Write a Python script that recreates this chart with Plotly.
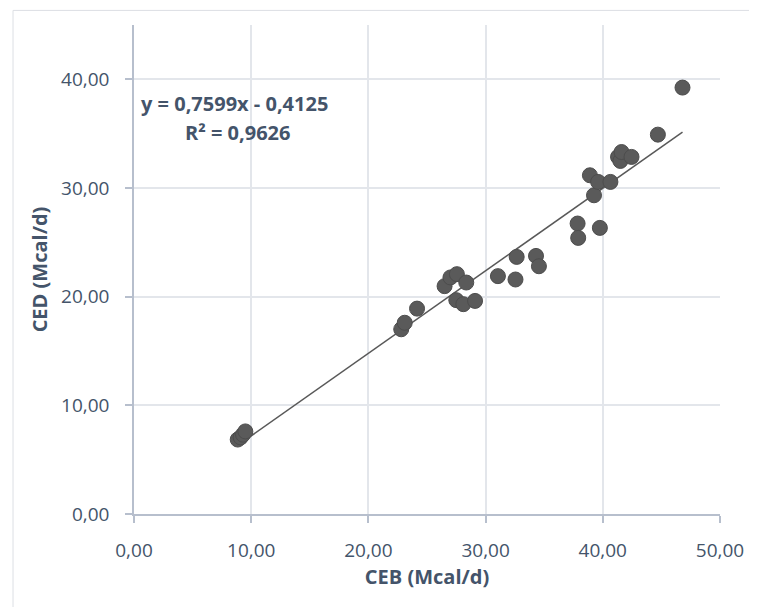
import numpy as np
import plotly.graph_objects as go

# Data
ceb = [8.85, 9.1, 9.3, 9.5, 22.8, 23.1, 24.15, 26.5, 27.0, 27.55, 28.35, 27.5, 28.1, 29.1,
       31.05, 32.55, 32.65, 34.3, 34.55, 37.85, 37.9, 39.75, 39.25, 38.9, 39.6, 40.65,
       41.3, 41.5, 41.6, 42.45, 44.7, 46.8]
ced = [6.85, 7.05, 7.3, 7.6, 17.0, 17.6, 18.9, 20.97, 21.77, 22.07, 21.3, 19.68, 19.31, 19.61,
       21.89, 21.58, 23.66, 23.75, 22.8, 26.73, 25.41, 26.33, 29.33, 31.17, 30.56, 30.56,
       32.86, 32.49, 33.31, 32.86, 34.91, 39.24]
slope = 0.7599
intercept = -0.4125
r2 = 0.9626

x_ticks = [0, 10, 20, 30, 40, 50]
y_ticks = [0, 10, 20, 30, 40]

txt = "#44546a"
axis_col = "#b7bfcd"
grid_col = "#e3e6eb"
font_family = "Open Sans, Liberation Sans, sans-serif"

# plot area geometry (figure pixels)
L, T, PW, PH = 126.4, 16.6, 585.6, 489.4
W, H = 757, 607
B = H - T - PH
R = W - L - PW


def px_to_paper(x, y):
    return (x - L) / PW, (T + PH - y) / PH


tx = np.array([min(ceb), max(ceb)])
ty = slope * tx + intercept

fig = go.Figure()
fig.add_trace(go.Scatter(
    x=tx, y=ty, mode="lines",
    line=dict(color="#595959", width=1.5),
    hoverinfo="skip", showlegend=False))
fig.add_trace(go.Scatter(
    x=ceb, y=ced, mode="markers",
    marker=dict(size=15, color="#5a5a5a", line=dict(color="#4d4d4d", width=1)),
    showlegend=False))

line1 = ("<b>y = " + f"{slope:.4f}".replace(".", ",") + "x - "
         + f"{abs(intercept):.4f}".replace(".", ",") + "</b>")
line2 = "<b>R² = " + f"{r2:.4f}".replace(".", ",") + "</b>"
ax1, ay1 = px_to_paper(227, 95)
ax2, ay2 = px_to_paper(230, 124)
for t, ax, ay in [(line1, ax1, ay1), (line2, ax2, ay2)]:
    fig.add_annotation(x=ax, y=ay, xref="paper", yref="paper", text=t,
                       showarrow=False, xanchor="center", yanchor="middle",
                       font=dict(family=font_family, size=20, color=txt))

bx0, by1 = px_to_paper(5.5, 2)
bx1, by0 = px_to_paper(742, 700)
fig.add_shape(type="rect", xref="paper", yref="paper",
              x0=bx0, x1=bx1, y0=by0, y1=by1,
              line=dict(color="#dcdfe4", width=1), layer="below")

fig.update_layout(
    width=W, height=H,
    margin=dict(l=L, r=R, t=T, b=B),
    paper_bgcolor="white", plot_bgcolor="white",
    separators=",.",
    font=dict(family=font_family, color=txt),
    xaxis=dict(
        range=[0, 50], tickvals=x_ticks, tickformat=".2f",
        showgrid=True, gridcolor=grid_col, gridwidth=1.5,
        showline=True, linecolor=axis_col, linewidth=1.5,
        ticks="outside", ticklen=7, tickcolor=axis_col, tickwidth=1.5,
        ticklabelstandoff=11,
        tickfont=dict(size=19, color=txt), zeroline=False,
        title=dict(text="<b>CEB (Mcal/d)</b>", font=dict(size=20, color=txt), standoff=8),
    ),
    yaxis=dict(
        range=[0, 45], tickvals=y_ticks, tickformat=".2f",
        showgrid=True, gridcolor=grid_col, gridwidth=1.5,
        showline=True, linecolor=axis_col, linewidth=1.5,
        ticks="outside", ticklen=7, tickcolor=axis_col, tickwidth=1.5,
        ticklabelstandoff=12,
        tickfont=dict(size=19, color=txt), zeroline=False,
        title=dict(text="<b>CED (Mcal/d)</b>", font=dict(size=20, color=txt), standoff=8),
    ),
)

fig.write_html("out.html")
